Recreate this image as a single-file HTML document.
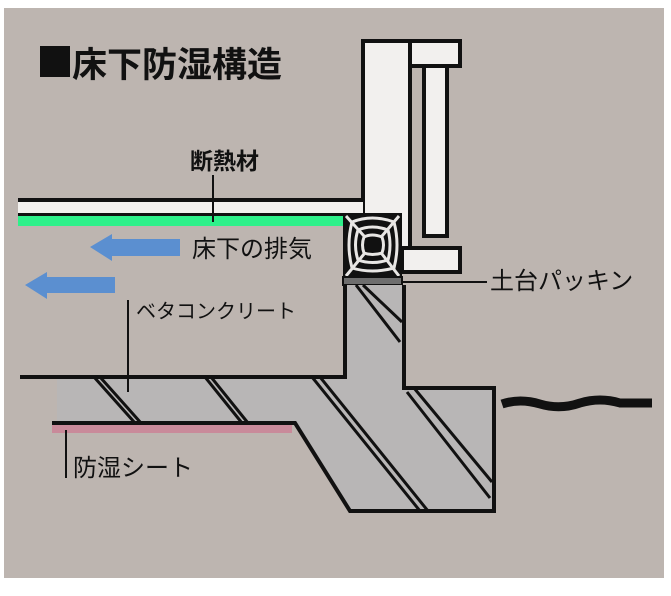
<!DOCTYPE html>
<html><head><meta charset="utf-8"><style>
html,body{margin:0;padding:0;background:#fff;}
svg{display:block;}
text{font-family:"Liberation Sans","Noto Sans CJK JP",sans-serif;}
</style></head><body>
<svg width="671" height="596" viewBox="0 0 671 596" xmlns="http://www.w3.org/2000/svg">
<rect x="0" y="0" width="671" height="596" fill="#fff"/>
<rect x="4" y="8" width="660" height="570" fill="#bdb5b0"/>
<!-- title -->
<rect x="40" y="46" width="30" height="31" fill="#111"/>
<text x="72" y="77" font-size="35" font-weight="bold" fill="#111">床下防湿構造</text>
<!-- wall -->
<rect x="363" y="41" width="47" height="226" fill="#f2f0ee" stroke="#111" stroke-width="4"/>
<rect x="410" y="41" width="50" height="25" fill="#f2f0ee" stroke="#111" stroke-width="4"/>
<rect x="424" y="66" width="23" height="170" fill="#f2f0ee" stroke="#111" stroke-width="4"/>
<rect x="402" y="248" width="58" height="24" fill="#f2f0ee" stroke="#111" stroke-width="4"/>
<!-- floor -->
<rect x="18" y="198" width="345" height="4" fill="#111"/>
<rect x="18" y="202" width="345" height="11" fill="#f2f0ee"/>
<rect x="18" y="213" width="327" height="3" fill="#111"/>
<rect x="18" y="216" width="325" height="10" fill="#2ef08a"/>
<!-- sill -->
<rect x="343" y="213" width="59" height="64" fill="#111"/>
<g fill="none" stroke="#e8e6e4" stroke-width="3">
<path d="M352 222 Q372 214 394 222 Q400 245 394 268 Q372 274 352 268 Q346 245 352 222Z"/>
<path d="M358 230 Q372 224 388 230 Q392 245 388 260 Q372 265 358 260 Q353 245 358 230Z"/>
<path d="M364 237 Q372 233 382 237 Q385 245 382 253 Q372 256 364 253 Q361 245 364 237Z"/>
<path d="M346 216 L364 236 M399 216 L382 236 M346 276 L364 254 M399 276 L382 254"/>
</g>
<rect x="343" y="277" width="59" height="8" fill="#6e6e6e" stroke="#111" stroke-width="2"/>
<!-- foundation -->
<path d="M345 285 L404 285 L404 388 L494 388 L494 511 L350 511 L295 423 L57 423 L57 377 L345 377 Z" fill="#b8b6b6"/>
<g stroke="#111" stroke-width="3" fill="none">
<path d="M94 377 L135 423 M100 377 L141 423"/>
<path d="M205 377 L242 423 M211 377 L248 423"/>
<path d="M312 377 L420 511 M320 377 L428 511"/>
<path d="M356 285 L400 342 M363 285 L402 322"/>
<path d="M407 392 L490 498 M414 388 L492 482"/>
</g>
<g stroke="#111" stroke-width="4" fill="none">
<path d="M20 377 L345 377 L345 285 M404 285 L404 388 L494 388 L494 511 L350 511 L295 423 L52 423"/>
</g>
<rect x="52" y="425" width="240" height="8" fill="#c98a9a"/>
<!-- ground -->
<path d="M502 404 Q520 398 540 404 Q560 410 580 403 Q600 397 620 403 L652 403" stroke="#111" stroke-width="9" fill="none"/>
<!-- arrows -->
<polygon points="90,247 112,234 112,239 180,239 180,256 112,256 112,261" fill="#5b8fd0"/>
<polygon points="25,285 47,272 47,277 115,277 115,293 47,293 47,299" fill="#5b8fd0"/>
<!-- labels -->
<text x="190" y="169" font-size="23" font-weight="bold" fill="#111">断熱材</text>
<line x1="213" y1="175" x2="213" y2="222" stroke="#111" stroke-width="2"/>
<text x="192" y="257" font-size="24" fill="#111">床下の排気</text>
<line x1="403" y1="282" x2="487" y2="282" stroke="#111" stroke-width="2"/>
<text x="490" y="289" font-size="24" fill="#111">土台パッキン</text>
<line x1="128" y1="300" x2="128" y2="392" stroke="#111" stroke-width="2"/>
<text x="136" y="318" font-size="20" fill="#111">ベタコンクリート</text>
<line x1="66" y1="430" x2="66" y2="478" stroke="#111" stroke-width="2"/>
<text x="73" y="476" font-size="24" fill="#111">防湿シート</text>
</svg>
</body></html>
